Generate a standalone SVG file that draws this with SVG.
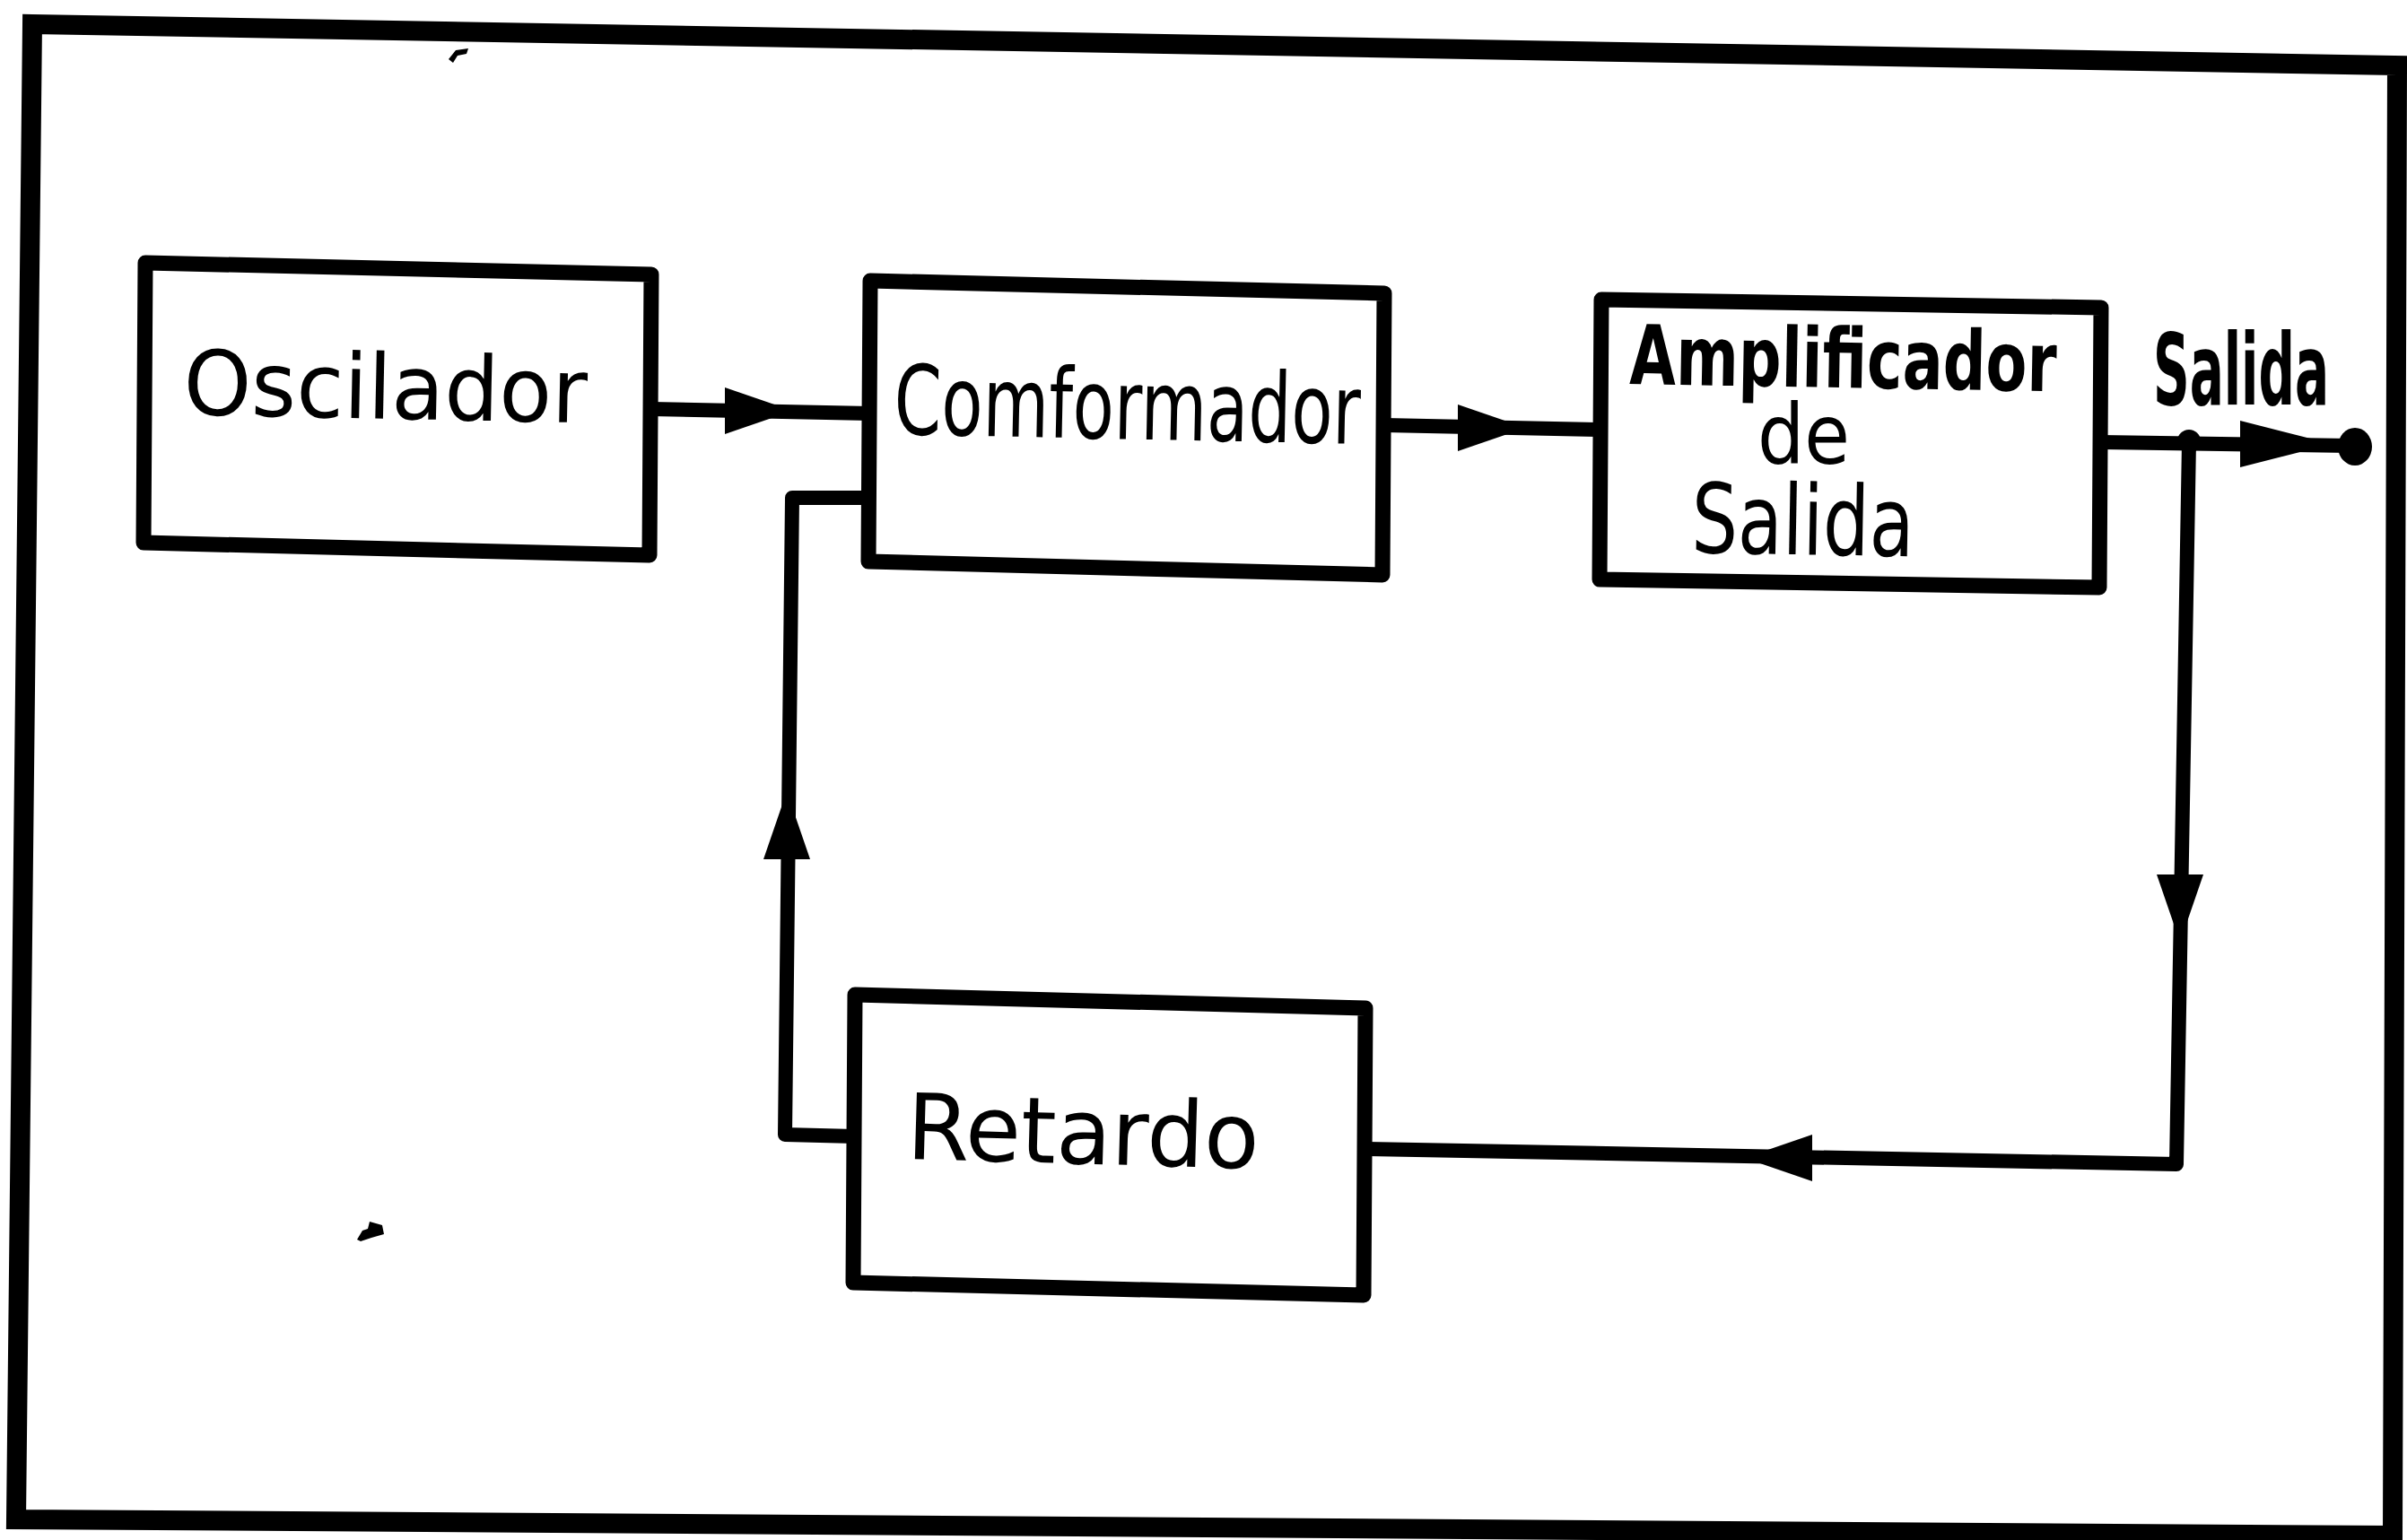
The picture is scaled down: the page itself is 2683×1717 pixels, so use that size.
<svg xmlns="http://www.w3.org/2000/svg" width="2683" height="1717" viewBox="0 0 2683 1717">
<style>
.box{fill:#fff;stroke:#000;stroke-width:17;stroke-linejoin:round}
.frame{fill:none;stroke:#000;stroke-width:22;stroke-linejoin:miter}
.wire{fill:none;stroke:#000;stroke-width:16;stroke-linejoin:round;stroke-linecap:round}
.lbl{font-family:"DejaVu Sans","Liberation Sans",sans-serif;fill:#000}
.bold{font-weight:bold}
</style>
<defs>
<path id="ah" d="M0,-26 L64,-4 L64,4 L0,26 Z" fill="#000"/>
</defs>
<rect width="2683" height="1717" fill="#fff"/>
<path class="frame" d="M36,27 L2672,73 L2667,1712 L18,1694 Z"/>
<g id="connectors">
  <path class="wire" d="M726,456 L970,461"/>
  <use href="#ah" transform="translate(808,458)"/>
  <path class="wire" d="M1543,474 L1785,479"/>
  <use href="#ah" transform="translate(1625,477)"/>
  <path class="wire" d="M968,555 L883,555 L875,1265 L953,1267"/>
  <use href="#ah" transform="translate(877,958) rotate(-90)"/>
  <path class="wire" d="M2342,493 L2620,497"/>
  <path class="wire" d="M2440,493 L2426,1298 L1522,1281"/>
  <use href="#ah" transform="translate(2430,975) rotate(90)"/>
  <use href="#ah" transform="translate(2020,1291) rotate(180)"/>
  <use href="#ah" transform="translate(2497,495) scale(1.35,1)"/>
  <circle cx="2440" cy="492" r="13" fill="#000"/>
  <ellipse cx="2625" cy="498" rx="19" ry="21" fill="#000"/>
</g>
<g id="oscilador">
  <path class="box" d="M162,293 L726,306 L724,619 L160,605 Z"/>
  <text class="lbl" x="204" y="462" font-size="100" textLength="450" lengthAdjust="spacingAndGlyphs" transform="rotate(1.2 204 462)">Oscilador</text>
</g>
<g id="comformador">
  <path class="box" d="M970,313 L1543,327 L1541,641 L968,626 Z"/>
  <text class="lbl" x="996" y="484" font-size="108" textLength="520" lengthAdjust="spacingAndGlyphs" transform="rotate(1.2 996 484)">Comformador</text>
</g>
<g id="amplificador">
  <path class="box" d="M1785,334 L2342,343 L2340,655 L1783,646 Z"/>
  <text class="lbl bold" x="1816" y="428" font-size="92" textLength="476" lengthAdjust="spacingAndGlyphs" transform="rotate(1 1816 428)">Amplificador</text>
  <text class="lbl" x="1959" y="517" font-size="92" textLength="103" lengthAdjust="spacingAndGlyphs">de</text>
  <text class="lbl" x="1885" y="616" font-size="108" textLength="248" lengthAdjust="spacingAndGlyphs" transform="rotate(1 1885 616)">Salida</text>
</g>
<g id="salida">
  <text class="lbl bold" x="2400" y="451" font-size="110" textLength="196" lengthAdjust="spacingAndGlyphs">Salida</text>
</g>
<g id="retardo">
  <path class="box" d="M953,1109 L1522,1124 L1520,1444 L951,1430 Z"/>
  <text class="lbl" x="1010" y="1292" font-size="102" textLength="393" lengthAdjust="spacingAndGlyphs" transform="rotate(1.6 1010 1292)">Retardo</text>
</g>
<path d="M500,66 L508,56 L522,54 L520,60 L510,62 L505,70 Z" fill="#000"/>
<path d="M398,1382 L404,1372 L410,1370 L412,1362 L426,1366 L428,1376 L414,1380 L402,1384 Z" fill="#000"/>
</svg>
